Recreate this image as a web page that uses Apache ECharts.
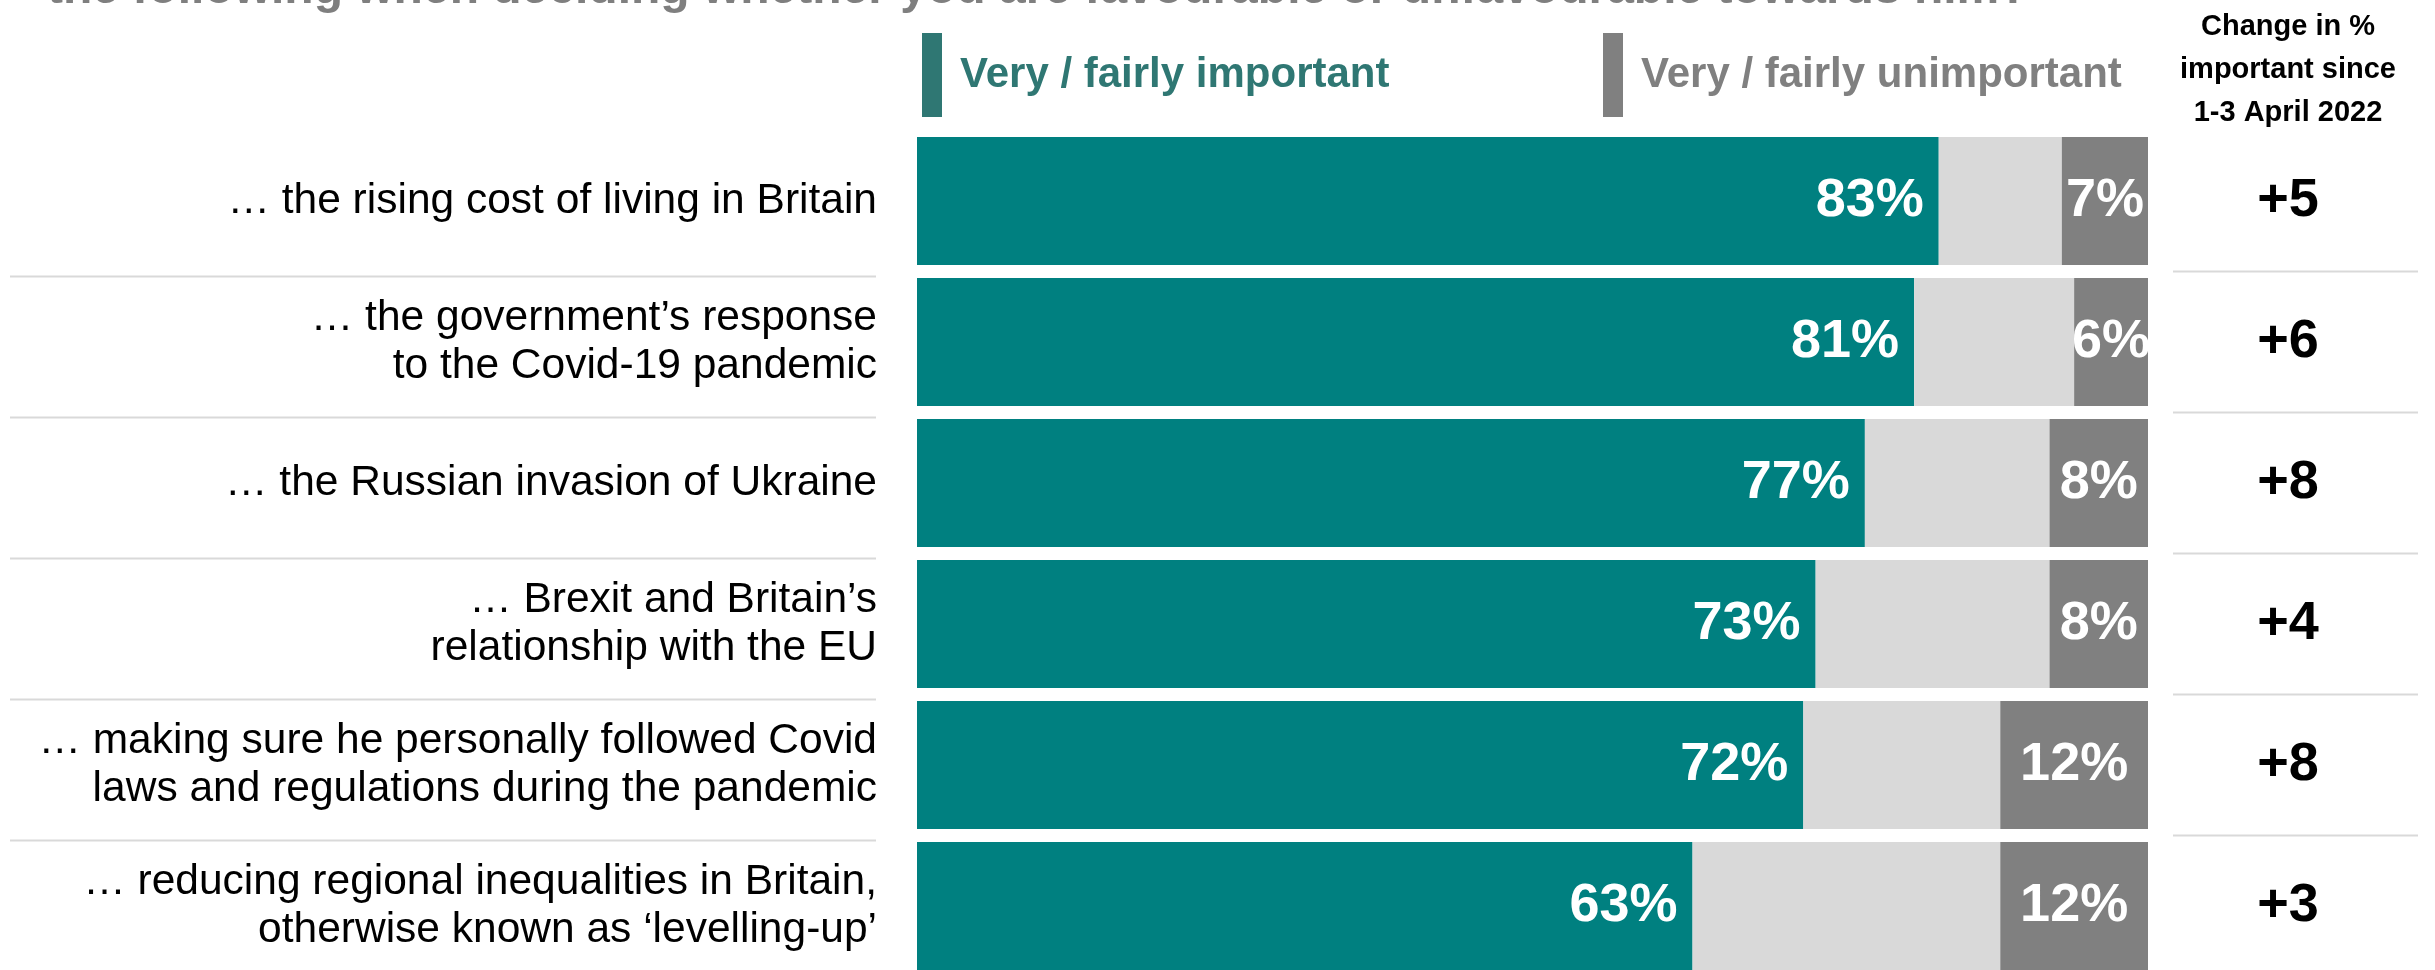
<!DOCTYPE html>
<html>
<head>
<meta charset="utf-8">
<script src="https://cdn.jsdelivr.net/npm/echarts@6/dist/echarts.min.js"></script>
<style>
html,body{margin:0;padding:0;background:#fff;}
#chart{width:2435px;height:970px;}
</style>
</head>
<body>
<div id="chart"></div>
<script>
const categories = [
  '… the rising cost of living in Britain',
  '… the government’s response\nto the Covid-19 pandemic',
  '… the Russian invasion of Ukraine',
  '… Brexit and Britain’s\nrelationship with the EU',
  '… making sure he personally followed Covid\nlaws and regulations during the pandemic',
  '… reducing regional inequalities in Britain,\notherwise known as ‘levelling-up’'
];
const important = [83, 81, 77, 73, 72, 63];
const neither = [10, 13, 15, 19, 16, 25];
const unimportant = [7, 6, 8, 8, 12, 12];
const changeSince = ['+5', '+6', '+8', '+4', '+8', '+3'];
const titleLine = 'the following when deciding whether you are favourable or unfavourable towards him?';
const changeHeader = 'Change in %\nimportant since\n1-3 April 2022';

const FONT = '"Liberation Sans", Arial, sans-serif';
const chart = echarts.init(document.getElementById('chart'), null, {renderer: 'canvas'});

const option = {
  animation: false,
  backgroundColor: '#ffffff',
  textStyle: {fontFamily: FONT},
  grid: {left: 917, top: 130.5, width: 1231, height: 846, outerBoundsMode: 'none', containLabel: false},
  legend: [
    {
      left: 917, top: 28, itemWidth: 20, itemHeight: 84, icon: 'rect', selectedMode: false,
      data: [{name: 'Very / fairly important', itemStyle: {color: '#2f7773'},
              textStyle: {color: '#2f7773'}}],
      textStyle: {fontSize: 42, fontWeight: 'bold', fontFamily: FONT, padding: [0, 0, 0, 13]}
    },
    {
      left: 1598, top: 28, itemWidth: 20, itemHeight: 84, icon: 'rect', selectedMode: false,
      data: [{name: 'Very / fairly unimportant', itemStyle: {color: '#808080'},
              textStyle: {color: '#808080'}}],
      textStyle: {fontSize: 42, fontWeight: 'bold', fontFamily: FONT, padding: [0, 0, 0, 13]}
    }
  ],
  xAxis: {type: 'value', min: 0, max: 100, show: false},
  yAxis: [
    {
      type: 'category', data: categories, inverse: true,
      axisLine: {show: false}, axisTick: {show: false}, splitLine: {show: false},
      axisLabel: {fontSize: 42.5, lineHeight: 48, color: '#000000', fontFamily: FONT, margin: 40, align: 'right'}
    },
    {
      type: 'category', data: changeSince, inverse: true, position: 'right',
      axisLine: {show: false}, axisTick: {show: false}, splitLine: {show: false},
      axisLabel: {fontSize: 54, fontWeight: 'bold', color: '#000000', fontFamily: FONT, margin: 140, align: 'center'}
    }
  ],
  series: [
    {
      name: 'Very / fairly important', type: 'bar', stack: 'all', data: important, barWidth: 128,
      itemStyle: {color: '#008080'},
      label: {show: true, position: 'insideRight', distance: 15, formatter: '{c}%',
              color: '#ffffff', fontSize: 54, fontWeight: 'bold', fontFamily: FONT}
    },
    {
      name: 'Neither', type: 'bar', stack: 'all', data: neither, barWidth: 128,
      itemStyle: {color: '#d9d9d9'}, label: {show: false}
    },
    {
      name: 'Very / fairly unimportant', type: 'bar', stack: 'all', data: unimportant, barWidth: 128,
      itemStyle: {color: '#808080'},
      label: {show: true, position: 'inside', formatter: '{c}%',
              color: '#ffffff', fontSize: 54, fontWeight: 'bold', fontFamily: FONT}
    }
  ],
  graphic: [
    {type: 'text', x: 47, y: -10, silent: true,
     style: {text: titleLine, font: 'bold 48px ' + FONT, fill: '#7f7f7f', textAlign: 'left', textVerticalAlign: 'middle'}},
    {type: 'text', x: 2288, y: 5, silent: true,
     style: {text: changeHeader, font: 'bold 29px ' + FONT, lineHeight: 43, fill: '#000000', textAlign: 'center', textVerticalAlign: 'top'}}
  ]
};
chart.setOption(option);

// separators between rows, placed at the band boundaries of the category axis
const seps = [];
for (let i = 1; i < categories.length; i++) {
  const a = chart.convertToPixel({yAxisIndex: 0}, i - 1);
  const b = chart.convertToPixel({yAxisIndex: 0}, i);
  const y = (a + b) / 2;
  seps.push({type: 'line', silent: true, shape: {x1: 10, y1: y + 5, x2: 876, y2: y + 5},
             style: {stroke: '#d9d9d9', lineWidth: 2}});
  seps.push({type: 'line', silent: true, shape: {x1: 2173, y1: y, x2: 2418, y2: y},
             style: {stroke: '#d9d9d9', lineWidth: 2}});
}
chart.setOption({graphic: option.graphic.concat(seps)});
</script>
</body>
</html>
